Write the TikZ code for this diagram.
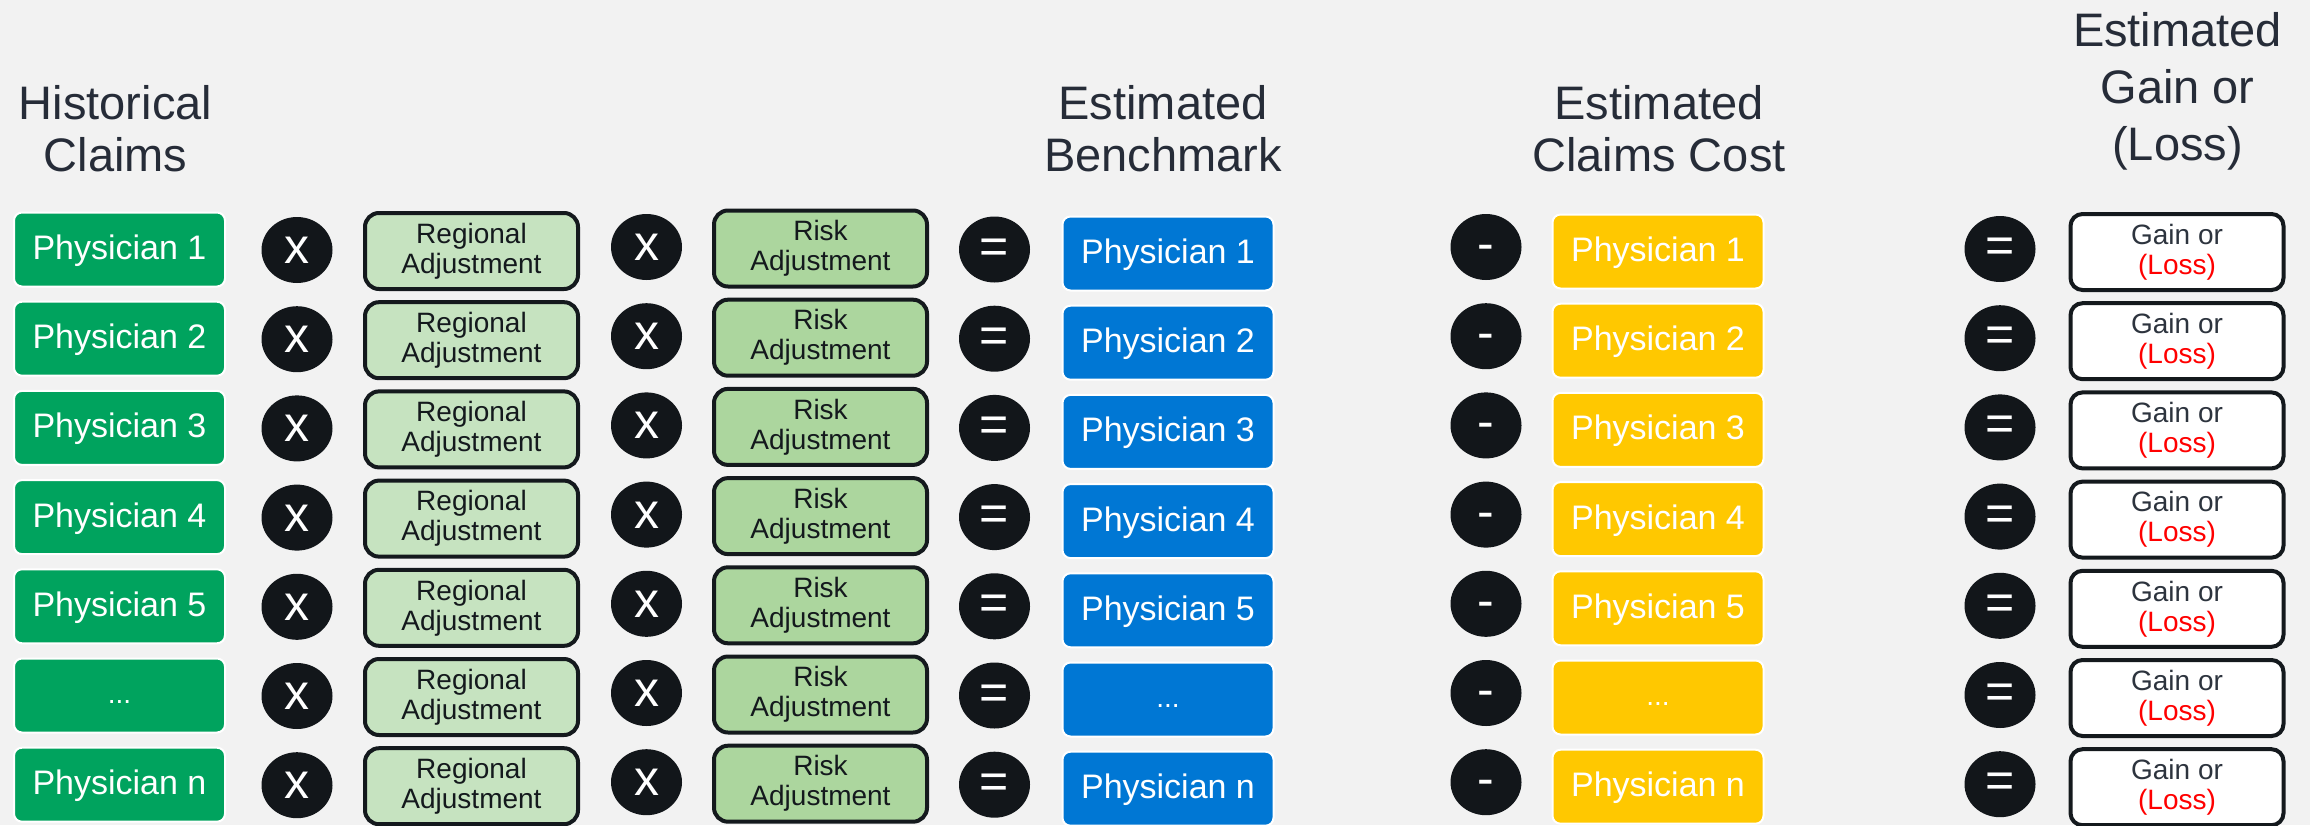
\documentclass[tikz,border=0pt]{standalone}
\usepackage{fontspec}
\setmainfont{Liberation Sans}
\usetikzlibrary{shapes.geometric}

\definecolor{bg}{RGB}{242,242,242}
\definecolor{docgreen}{RGB}{0,163,94}
\definecolor{benchblue}{RGB}{0,119,212}
\definecolor{costyellow}{RGB}{255,200,0}
\definecolor{regfill}{RGB}{198,227,192}
\definecolor{riskfill}{RGB}{172,214,158}
\definecolor{ink}{RGB}{20,25,29}
\definecolor{headink}{RGB}{38,44,56}
\definecolor{opfill}{RGB}{18,22,26}
\definecolor{lossred}{RGB}{255,0,0}
\definecolor{gainink}{RGB}{45,52,62}

% placeholder row label, set a little smaller than the names
\newcommand\gapdots{\raisebox{2pt}{\fontsize{28}{34}\selectfont...}}

\tikzset{
  solidbox/.style={rectangle, rounded corners=8pt, draw=white, line width=2pt,
    minimum width=211pt, minimum height=74pt, inner sep=0pt, text=white,
    font=\fontsize{34}{40}\selectfont, text height=20pt, text depth=0pt},
  greenbox/.style={solidbox, fill=docgreen},
  bluebox/.style={solidbox, fill=benchblue},
  yellowbox/.style={solidbox, fill=costyellow},
  factorbox/.style={rectangle, rounded corners=14pt, draw=ink, line width=4pt,
    minimum width=213pt, minimum height=76pt, inner sep=0pt, align=center,
    text=ink, font=\fontsize{28}{30}\selectfont},
  regbox/.style={factorbox, fill=regfill},
  riskbox/.style={factorbox, fill=riskfill},
  resultbox/.style={factorbox, fill=white, text=gainink, rounded corners=12pt},
  opsym/.style={ellipse, fill=opfill, minimum width=71pt, minimum height=66pt,
    inner sep=0pt, text=white, font=\fontsize{50}{50}\selectfont,
    text height=27pt, text depth=0pt},
  header/.style={align=center, text=headink, inner sep=0pt},
}

\begin{document}
\begin{tikzpicture}[x=1pt, y=-1pt]
  % canvas
  \fill[bg] (0,0) rectangle (2310,825);
  \useasboundingbox (0,0) rectangle (2310,825);

  % column headings
  \node[header, font=\fontsize{47}{52}\selectfont] (hHist) at (115.5,129) {Historical\\Claims};
  \node[header, font=\fontsize{47}{52}\selectfont] (hBench) at (1163,128.5) {Estimated\\Benchmark};
  \node[header, font=\fontsize{47}{52}\selectfont] (hCost) at (1659,128.5) {Estimated\\Claims Cost};
  \node[header, font=\fontsize{47}{57}\selectfont] (hGain) at (2177.5,91) {Estimated\\Gain or\\(Loss)};

  % one equation per physician
  \foreach \r/\lab in {1/Physician 1, 2/Physician 2, 3/Physician 3, 4/Physician 4,
                       5/Physician 5, 6/\gapdots, 7/Physician n} {
    \pgfmathsetmacro{\dy}{(\r-1)*89.2}
    \node[greenbox]  (g\r)    at (119.5, {249.5+\dy}) {\lab};
    \node[opsym]     (xa\r)   at (297,   {250+\dy})   {x};
    \node[regbox]    (reg\r)  at (471.5, {251+\dy})   {Regional\\Adjustment};
    \node[opsym]     (xb\r)   at (646.5, {247+\dy})   {x};
    \node[riskbox]   (risk\r) at (820.5, {248.5+\dy}) {Risk\\Adjustment};
    \node[opsym]     (eqa\r)  at (994.5, {249.5+\dy}) {=};
    \node[bluebox]   (b\r)    at (1168,  {253.5+\dy}) {\lab};
    \node[opsym]     (mi\r)   at (1486,  {247+\dy})   {-};
    \node[yellowbox] (y\r)    at (1658,  {251.5+\dy}) {\lab};
    \node[opsym]     (eqb\r)  at (2000,  {249+\dy})   {=};
    \node[resultbox] (w\r)    at (2177,  {252+\dy})   {Gain or\\\textcolor{lossred}{(Loss)}};
  }
\end{tikzpicture}
\end{document}
